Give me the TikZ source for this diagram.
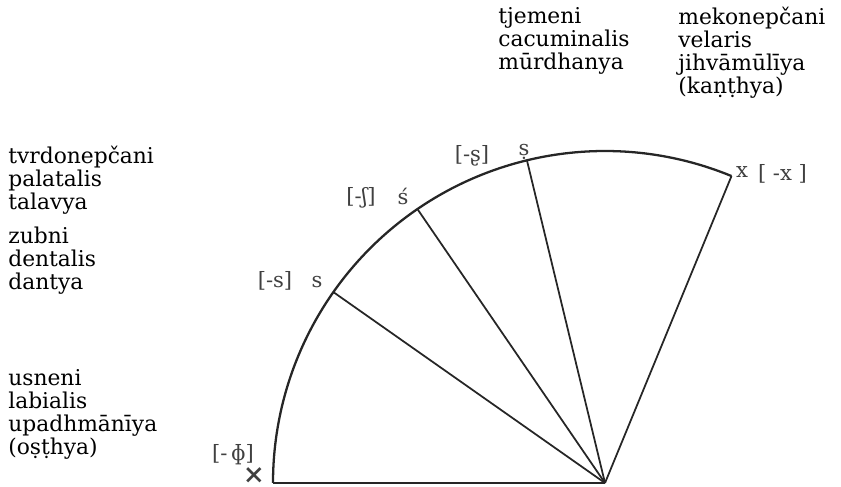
\documentclass[tikz,border=0pt]{standalone}
\usepackage{fontspec}
\setmainfont{DejaVu Serif}
\usetikzlibrary{calc, positioning}

\tikzset{
  block/.style={anchor=base west, align=left, inner sep=0pt,
    font=\fontsize{12.4}{13.1}\selectfont},
  sound/.style={inner sep=0pt, text=black!75, font=\fontsize{12}{13}\selectfont},
  rim/.style={line width=1.3pt, draw=black!85},
  spoke/.style={line width=1pt, draw=black!85}
}

\begin{document}
\begin{tikzpicture}[>=stealth, scale=1.0]
  \useasboundingbox (-12.1,-0.08) rectangle (4.72,9.66);
  % apex of the fan and the points where the spokes meet the rim
  \def\R{6.64}
  \coordinate (O) at (0,0);
  \coordinate (L) at (180:\R);
  \coordinate (pDen) at (144.9:\R);
  \coordinate (pPal) at (124.4:\R);
  \coordinate (pCac) at (103.6:\R);
  \coordinate (pVel) at (67.6:\R);
  % rim and base
  \draw[rim] (L) arc[start angle=180, end angle=67.6, radius=\R];
  \draw[rim] (L) -- (O);
  \foreach \p in {pDen, pPal, pCac, pVel}
    \draw[spoke] (O) -- (\p);

  % sounds on the rim
  \node[sound] (phi) at (-7.44,0.56) {[-\,ɸ]};
  \node[sound, font=\fontsize{15}{15}\selectfont\bfseries] (upa) at (-7.02,0.14) {×};
  \node[sound] (sDenB) at (-6.6,4.04) {[-s]};
  \node[sound] (sDen) at (-5.76,4.02) {s};
  \node[sound] (sPalB) at (-4.88,5.7) {[-ʃ]};
  \node[sound] (sPal) at (-4.04,5.74) {ś};
  \node[sound] (sCacB) at (-2.66,6.54) {[-ʂ]};
  \node[sound] (sCac) at (-1.62,6.62) {ṣ};
  \node[sound] (xVel) at (2.74,6.22) {x};
  \node[sound] (xVelB) at (3.55,6.18) {[ -x ]};

  % names of the places (base = last line)
  \node[block] (palatal) at (-11.94,5.46) {tvrdonepčani\\palatalis\\talavya};
  \node[block] (dental) at (-11.94,3.86) {zubni\\dentalis\\dantya};
  \node[block] (labial) at (-11.94,0.56) {usneni\\labialis\\upadhmānīya\\(oṣṭhya)};
  \node[block] (cacum) at (-2.14,8.26) {tjemeni\\cacuminalis\\mūrdhanya};
  \node[block] (velar) at (1.46,7.78) {mekonepčani\\velaris\\jihvāmūlīya\\(kaṇṭhya)};
\end{tikzpicture}
\end{document}
